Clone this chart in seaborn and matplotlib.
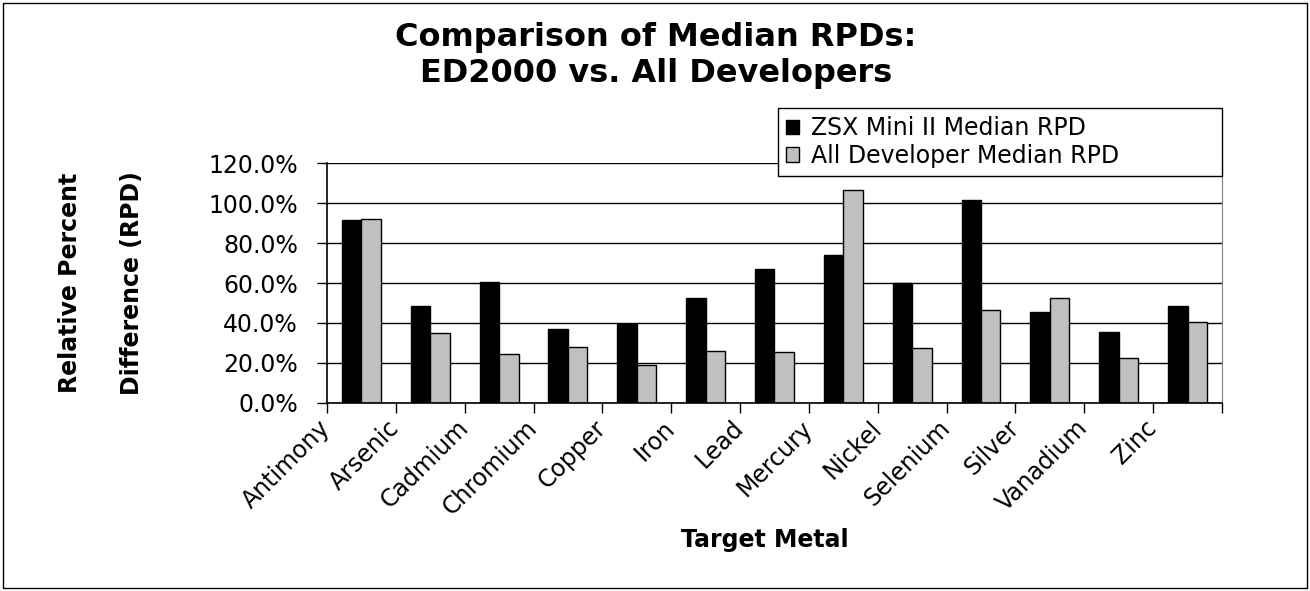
import numpy as np
import pandas as pd
import seaborn as sns
import matplotlib.pyplot as plt
from matplotlib.patches import Rectangle
from matplotlib.ticker import PercentFormatter

# values (fractions, 1.0 = 100%)
metals = ["Antimony", "Arsenic", "Cadmium", "Chromium", "Copper", "Iron", "Lead",
          "Mercury", "Nickel", "Selenium", "Silver", "Vanadium", "Zinc"]
zsx_median = [0.915, 0.485, 0.605, 0.368, 0.397, 0.525, 0.668,
              0.740, 0.602, 1.015, 0.453, 0.352, 0.485]
all_median = [0.922, 0.348, 0.242, 0.277, 0.190, 0.260, 0.255,
              1.067, 0.273, 0.463, 0.525, 0.225, 0.405]
series_names = ["ZSX Mini II Median RPD", "All Developer Median RPD"]
y_ticks = [0.0, 0.2, 0.4, 0.6, 0.8, 1.0, 1.2]

df = pd.DataFrame({
    "metal": metals * 2,
    "rpd": zsx_median + all_median,
    "series": [series_names[0]] * len(metals) + [series_names[1]] * len(metals),
})

sns.set_style("white")
plt.rcParams["font.family"] = ["DejaVu Sans"]
plt.rcParams.update({"text.color": "black", "axes.labelcolor": "black",
                     "xtick.color": "black", "ytick.color": "black"})

fig = plt.figure(figsize=(13.1, 5.91), dpi=100)
ax = fig.add_axes([0.2496, 0.3186, 0.6832, 0.4051])

sns.barplot(data=df, x="metal", y="rpd", hue="series",
            palette=["black", "#c0c0c0"], saturation=1, width=0.565,
            edgecolor="black", linewidth=1, errorbar=None, ax=ax)

ax.set_xlim(-0.5, len(metals) - 0.5)
ax.set_ylim(0, 1.2)
ax.set_yticks(y_ticks)
ax.yaxis.set_major_formatter(PercentFormatter(1.0, decimals=1))
ax.yaxis.grid(True, color="black", lw=1)
ax.set_axisbelow(True)

# category labels sit on the boundary ticks, like the original
bounds = np.arange(len(metals) + 1) - 0.5
ax.set_xticks(bounds)
ax.set_xticklabels(metals + [""], rotation=45, ha="right", va="center",
                   rotation_mode="anchor")
ax.tick_params(axis="x", bottom=True, length=7, width=1, pad=8.5, labelsize=17,
               colors="black")
ax.tick_params(axis="y", left=True, length=7.2, width=1, pad=13.7, labelsize=17,
               colors="black")

for side in ["left", "bottom"]:
    ax.spines[side].set_color("black")
    ax.spines[side].set_linewidth(1.2)
ax.spines["top"].set_visible(False)
ax.spines["right"].set_color("#808080")

ax.set_xlabel("Target Metal", fontsize=17, fontweight="bold", color="black")
ax.xaxis.set_label_coords(0.489, -0.522)
ax.set_ylabel("Relative Percent\nDifference (RPD)", fontsize=17,
              fontweight="bold", linespacing=3.0, color="black")
ax.yaxis.set_label_coords(-0.205, 0.5)

leg = ax.legend(loc="upper left", bbox_to_anchor=(0.5939, 0.6954, 0.3389, 0.1218),
                bbox_transform=fig.transFigure, mode="expand", borderaxespad=0,
                fontsize=17, handlelength=0.55, handleheight=0.55,
                handletextpad=0.5, labelspacing=0.15, borderpad=0.35,
                fancybox=False, framealpha=1, title=None)
leg.get_frame().set_edgecolor("black")
leg.get_frame().set_linewidth(1)
for t in leg.get_texts():
    t.set_color("black")

# va="baseline" pins the baseline of the last line here
fig.suptitle("Comparison of Median RPDs:\nED2000 vs. All Developers",
             x=656 / 1310, y=1 - 82 / 591, ha="center", va="baseline",
             fontsize=23, fontweight="bold", linespacing=1.2, color="black")

fig.patches.append(Rectangle((0.0023, 0.005), 0.9954, 0.99, transform=fig.transFigure,
                             fill=False, edgecolor="black", lw=1))

fig.savefig("out.png", dpi=100)
